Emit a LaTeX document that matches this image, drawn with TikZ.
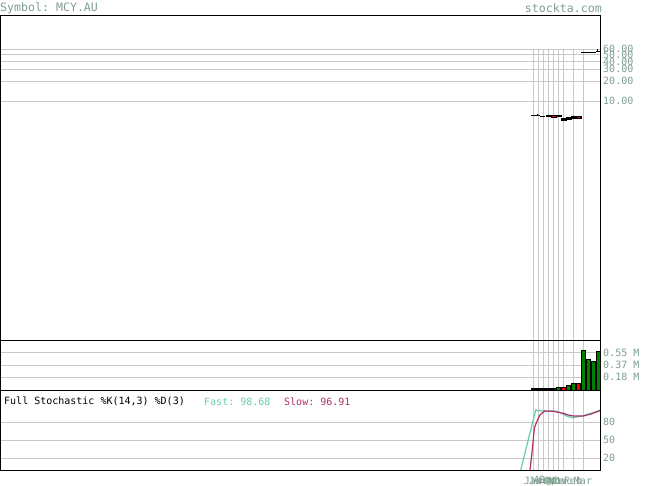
\documentclass[tikz,border=0pt]{standalone}
\usepackage{fontspec}
\setmonofont{DejaVu Sans Mono}
\definecolor{lbl}{HTML}{7FA08F}
\definecolor{fastc}{HTML}{66CDAA}
\definecolor{slowc}{HTML}{B0306A}
\definecolor{gridc}{HTML}{C8C8C8}
\definecolor{volg}{HTML}{008000}
\definecolor{volr}{HTML}{FF0000}
\begin{document}
\begin{tikzpicture}[x=1pt,y=-1pt,
  txt/.style={inner sep=0pt,font=\ttfamily\fontsize{10}{10}\selectfont},
  hdr/.style={inner sep=0pt,text=lbl,font=\ttfamily\fontsize{11.6}{12}\selectfont},
  axlbl/.style={txt,text=lbl,anchor=west},
  gridline/.style={draw=gridc,line width=0.9pt},
  frameline/.style={draw=black,line width=1pt},
  bar/.style={draw=black,line width=0.8pt},
  gbar/.style={bar,fill=volg},
  rbar/.style={bar,fill=volr},
  kbar/.style={bar,fill=black},
  tick/.style={draw=black,line width=1pt}]
\useasboundingbox (0,0) rectangle (655,486);
\fill[white] (0,0) rectangle (655,486);
% header
\node[hdr,anchor=west] (sym) at (0,8) {Symbol: MCY.AU};
\node[hdr,anchor=east] (site) at (602,8) {stockta.com};
% price grid
\foreach \yy in {49.3,54.6,61.0,69.3,81.0,101} \draw[gridline] (0.5,\yy) -- (600,\yy);
\foreach \xx in {533,538,543,548,553,558,563,573,583} {
  \draw[gridline] (\xx,49.3) -- (\xx,340);
  \draw[gridline] (\xx,340) -- (\xx,390);
  \draw[gridline] (\xx,390) -- (\xx,470);
}
\node[axlbl] (p60) at (603,49.3) {60.00};
\node[axlbl] (p50) at (603,54.6) {50.00};
\node[axlbl] (p40) at (603,61.5) {40.00};
\node[axlbl] (p30) at (603,69.3) {30.00};
\node[axlbl] (p20) at (603,81.0) {20.00};
\node[axlbl] (p10) at (603,101) {10.00};
% price bars
\draw[tick] (531,116) -- (535,116);
\draw[tick] (535,115.7) -- (540,115.7) (537.5,114.2) -- (537.5,115.7);
\draw[tick] (540,116.3) -- (545,116.3);
\draw[kbar] (546,115.2) rectangle (551,116.5);
\draw[bar,fill=volr] (551,115) rectangle (556,117);
\draw[kbar] (556,115) rectangle (561,116.3);
\draw[kbar] (561,118.7) rectangle (566,120.5);
\draw[kbar] (566,117.7) rectangle (571,119.5);
\draw[kbar] (571,116.7) rectangle (581,118.7);
\fill[volr] (577,117.3) rectangle (580,118.2);
\draw[tick] (581,53) -- (586,53);
\draw[tick] (586,53) -- (591,53);
\draw[tick] (591,52.2) -- (596,52.2);
\draw[tick] (596,51.5) -- (600,51.5) (597.5,49.5) -- (597.5,51.5);
% volume grid
\foreach \yy in {352.7,365,377.3} \draw[gridline] (0.5,\yy) -- (600,\yy);
\node[axlbl] (v55) at (603,352.7) {0.55 M};
\node[axlbl] (v37) at (603,365) {0.37 M};
\node[axlbl] (v18) at (603,377.3) {0.18 M};
% volume bars
\draw[kbar] (531,388.6) rectangle (556,389.6);
\draw[gbar] (556,387.3) rectangle (560.3,390);
\draw[rbar] (561,387.3) rectangle (565.3,390);
\draw[gbar] (566,385) rectangle (570.3,390);
\draw[gbar] (571,383.3) rectangle (575.3,390);
\draw[rbar] (576,383.3) rectangle (580.3,390);
\draw[gbar] (581,350) rectangle (585.3,390);
\draw[gbar] (586,359) rectangle (590.3,390);
\draw[gbar] (591,361) rectangle (595.3,390);
\draw[gbar] (596,351) rectangle (600,390);
% stochastic grid
\foreach \yy in {422.3,440.3,458} \draw[gridline] (0.5,\yy) -- (600,\yy);
\node[axlbl] (s80) at (603,422.3) {80};
\node[axlbl] (s50) at (603,440.3) {50};
\node[axlbl] (s20) at (603,458) {20};
\node[txt,anchor=west] (stt) at (4,401.5) {Full Stochastic \%K(14,3) \%D(3)};
\node[txt,anchor=west,text=fastc] (fast) at (204,401.5) {Fast: 98.68};
\node[txt,anchor=west,text=slowc] (slow) at (284,401.5) {Slow: 96.91};
\begin{scope}
\clip (0,390.5) rectangle (600,470);
\draw[fastc,line width=1.2pt] (520.7,470) -- (535.7,410) -- (538.3,410.7) -- (543.3,410.9) -- (553.3,411) -- (558.3,411.7) -- (563.3,414.3) -- (568.3,416.7) -- (573.3,417.7) -- (578.3,416.7) -- (583.3,415.7) -- (588.3,414) -- (593.3,412.7) -- (600,410);
\draw[slowc,line width=1.2pt] (530,470) -- (532.3,450) -- (534.3,428.3) -- (536.7,421.7) -- (540,415) -- (544.3,411) -- (553.3,411.3) -- (558.3,412.3) -- (563.3,413.3) -- (568.3,415) -- (573.3,416) -- (583.3,416) -- (590,414.3) -- (600,410.7);
\end{scope}
% date labels
\foreach \xx/\mm in {533/Jan,538/Jul,543/Aug,548/Sep,553/Oct,558/Nov,563/Dec,573/Feb,583/Mar}
  \node[txt,text=lbl] at (\xx,481) {\mm};
% frames
\draw[frameline] (0.5,15.5) rectangle (600,470);
\draw[frameline] (0.5,340.5) -- (600,340.5);
\draw[frameline] (0.5,390.5) -- (600,390.5);
\end{tikzpicture}
\end{document}
